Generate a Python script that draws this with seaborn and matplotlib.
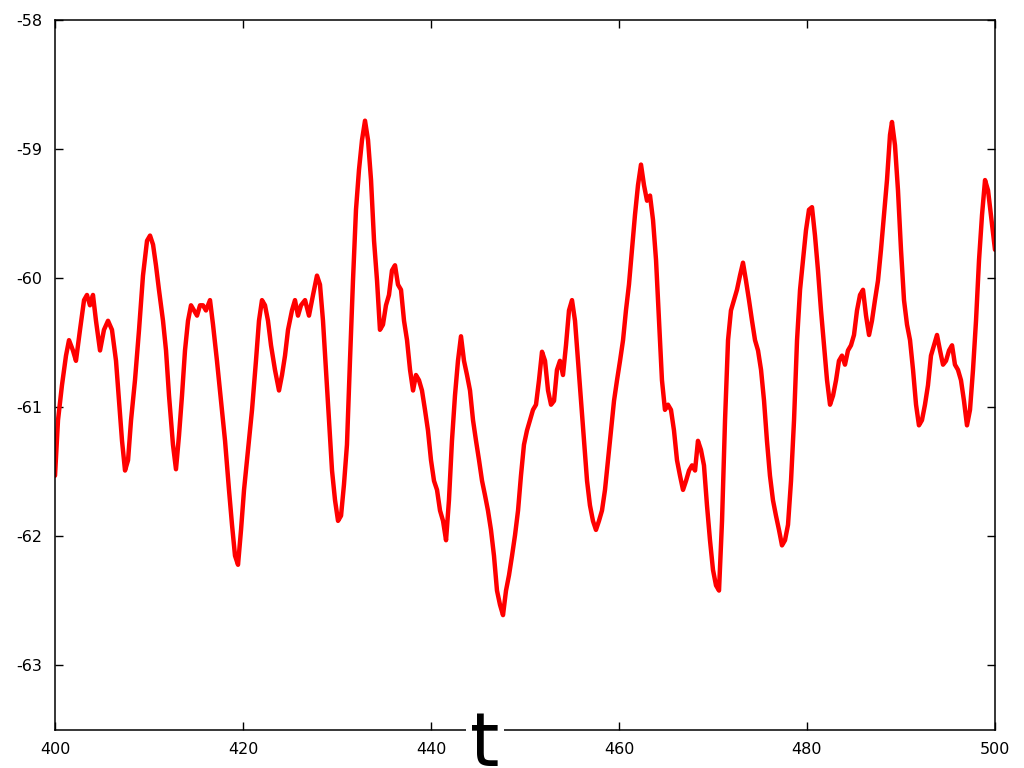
import numpy as np
import pandas as pd
import matplotlib
matplotlib.use("Agg")
import matplotlib.pyplot as plt
import seaborn as sns

# samples
t = [400.00, 400.32, 400.74, 401.17, 401.49, 401.91, 402.23, 402.66, 403.09, 403.40,
     403.72, 404.04, 404.36, 404.79, 405.21, 405.64, 406.06, 406.49, 406.81, 407.13,
     407.45, 407.77, 408.09, 408.51, 408.94, 409.36, 409.79, 410.11, 410.43, 410.74,
     411.06, 411.49, 411.81, 412.13, 412.55, 412.87, 413.19, 413.51, 413.83, 414.15,
     414.47, 414.79, 415.11, 415.43, 415.74, 416.06, 416.49, 416.81, 417.23, 417.66,
     418.09, 418.51, 418.83, 419.15, 419.47, 419.79, 420.11, 420.53, 420.96, 421.38,
     421.70, 422.02, 422.34, 422.66, 422.98, 423.40, 423.83, 424.15, 424.47, 424.79,
     425.21, 425.53, 425.85, 426.17, 426.60, 427.02, 427.45, 427.87, 428.19, 428.51,
     428.83, 429.15, 429.47, 429.79, 430.11, 430.43, 430.74, 431.06, 431.38, 431.70,
     432.02, 432.34, 432.66, 432.98, 433.30, 433.62, 433.94, 434.26, 434.57, 434.89,
     435.21, 435.53, 435.85, 436.17, 436.49, 436.81, 437.13, 437.45, 437.77, 438.09,
     438.40, 438.72, 439.04, 439.36, 439.68, 440.00, 440.32, 440.64, 440.96, 441.28,
     441.60, 441.91, 442.23, 442.55, 442.87, 443.19, 443.51, 443.83, 444.15, 444.47,
     444.79, 445.11, 445.43, 445.74, 446.06, 446.38, 446.70, 447.02, 447.34, 447.66,
     447.98, 448.30, 448.62, 448.94, 449.26, 449.57, 449.89, 450.21, 450.53, 450.85,
     451.17, 451.49, 451.81, 452.13, 452.45, 452.77, 453.09, 453.40, 453.72, 454.04,
     454.36, 454.68, 455.00, 455.32, 455.64, 455.96, 456.28, 456.60, 456.91, 457.23,
     457.55, 457.87, 458.19, 458.51, 458.83, 459.15, 459.47, 459.79, 460.11, 460.43,
     460.74, 461.06, 461.38, 461.70, 462.02, 462.34, 462.66, 462.98, 463.30, 463.62,
     463.94, 464.26, 464.57, 464.89, 465.21, 465.53, 465.85, 466.17, 466.49, 466.81,
     467.13, 467.45, 467.77, 468.09, 468.40, 468.72, 469.04, 469.36, 469.68, 470.00,
     470.32, 470.64, 470.96, 471.28, 471.60, 471.91, 472.23, 472.55, 472.87, 473.19,
     473.51, 473.83, 474.15, 474.47, 474.79, 475.11, 475.43, 475.74, 476.06, 476.38,
     476.70, 477.02, 477.34, 477.66, 477.98, 478.30, 478.62, 478.94, 479.26, 479.57,
     479.89, 480.21, 480.53, 480.85, 481.17, 481.49, 481.81, 482.13, 482.45, 482.77,
     483.09, 483.40, 483.72, 484.04, 484.36, 484.68, 485.00, 485.32, 485.64, 485.96,
     486.28, 486.60, 486.91, 487.23, 487.55, 487.87, 488.19, 488.51, 488.83, 489.04,
     489.36, 489.68, 490.00, 490.32, 490.64, 490.96, 491.28, 491.60, 491.91, 492.23,
     492.55, 492.87, 493.19, 493.51, 493.83, 494.15, 494.47, 494.79, 495.11, 495.43,
     495.74, 496.06, 496.38, 496.70, 497.02, 497.34, 497.66, 497.98, 498.30, 498.62,
     498.94, 499.26, 499.57, 499.89, 500.00]

val = [-61.53, -61.10, -60.83, -60.60, -60.48, -60.56, -60.64, -60.40, -60.17, -60.13,
       -60.21, -60.13, -60.33, -60.56, -60.40, -60.33, -60.40, -60.64, -60.95, -61.26,
       -61.49, -61.41, -61.10, -60.79, -60.40, -59.98, -59.71, -59.67, -59.74, -59.90,
       -60.09, -60.33, -60.56, -60.91, -61.29, -61.48, -61.22, -60.91, -60.56, -60.33,
       -60.21, -60.25, -60.29, -60.21, -60.21, -60.25, -60.17, -60.36, -60.64, -60.95,
       -61.26, -61.64, -61.91, -62.15, -62.22, -61.95, -61.64, -61.33, -61.02, -60.64,
       -60.33, -60.17, -60.21, -60.33, -60.52, -60.71, -60.87, -60.75, -60.60, -60.40,
       -60.25, -60.17, -60.29, -60.21, -60.17, -60.29, -60.13, -59.98, -60.05, -60.33,
       -60.71, -61.10, -61.49, -61.72, -61.88, -61.84, -61.60, -61.29, -60.64, -60.02,
       -59.47, -59.16, -58.93, -58.78, -58.93, -59.24, -59.71, -60.02, -60.40, -60.36,
       -60.21, -60.13, -59.94, -59.90, -60.05, -60.09, -60.33, -60.48, -60.71, -60.87,
       -60.75, -60.79, -60.87, -61.02, -61.18, -61.41, -61.57, -61.64, -61.80, -61.88,
       -62.03, -61.72, -61.26, -60.91, -60.64, -60.45, -60.64, -60.75, -60.87, -61.10,
       -61.26, -61.41, -61.57, -61.68, -61.80, -61.95, -62.15, -62.42, -62.53, -62.61,
       -62.42, -62.30, -62.15, -61.99, -61.80, -61.53, -61.29, -61.18, -61.10, -61.02,
       -60.98, -60.79, -60.57, -60.64, -60.87, -60.98, -60.95, -60.71, -60.64, -60.75,
       -60.52, -60.25, -60.17, -60.33, -60.64, -60.95, -61.26, -61.57, -61.76, -61.88,
       -61.95, -61.88, -61.80, -61.64, -61.41, -61.18, -60.95, -60.79, -60.64, -60.48,
       -60.25, -60.05, -59.78, -59.51, -59.28, -59.12, -59.28, -59.40, -59.36, -59.55,
       -59.86, -60.33, -60.79, -61.02, -60.98, -61.02, -61.18, -61.41, -61.53, -61.64,
       -61.57, -61.49, -61.45, -61.49, -61.26, -61.33, -61.45, -61.76, -62.03, -62.26,
       -62.38, -62.42, -61.88, -61.10, -60.48, -60.25, -60.17, -60.09, -59.98, -59.88,
       -60.02, -60.17, -60.33, -60.48, -60.56, -60.71, -60.95, -61.26, -61.53, -61.72,
       -61.84, -61.95, -62.07, -62.03, -61.91, -61.57, -61.10, -60.48, -60.09, -59.86,
       -59.63, -59.47, -59.45, -59.67, -59.94, -60.25, -60.52, -60.79, -60.98, -60.91,
       -60.79, -60.64, -60.60, -60.67, -60.56, -60.52, -60.44, -60.25, -60.13, -60.09,
       -60.29, -60.44, -60.33, -60.17, -60.02, -59.78, -59.51, -59.24, -58.89, -58.79,
       -58.97, -59.32, -59.78, -60.17, -60.36, -60.48, -60.71, -60.98, -61.14, -61.10,
       -60.98, -60.83, -60.60, -60.52, -60.44, -60.56, -60.67, -60.64, -60.56, -60.52,
       -60.67, -60.71, -60.79, -60.95, -61.14, -61.02, -60.71, -60.33, -59.86, -59.51,
       -59.24, -59.32, -59.51, -59.71, -59.78]

xticks = [400, 420, 440, 460, 480, 500]
yticks = [-63, -62, -61, -60, -59, -58]

df = pd.DataFrame({"t": t, "value": val})

sns.set_style("ticks")
plt.rcParams["font.family"] = ["DejaVu Sans"]
plt.rcParams["axes.unicode_minus"] = False

fig = plt.figure(figsize=(10.24, 7.68), dpi=100)
ax = fig.add_axes([55 / 1024, 1 - 730 / 768, 940 / 1024, 710 / 768])

sns.lineplot(data=df, x="t", y="value", ax=ax, color="#ff0000",
             linewidth=3.2, estimator=None)

ax.set_xlim(400, 500)
ax.set_ylim(-63.5, -58)
ax.set_xticks(xticks)
ax.set_yticks(yticks)
ax.set_xlabel("")
ax.set_ylabel("")
ax.tick_params(direction="in", length=6, width=1, top=True, right=True,
               labelsize=11.5, colors="black", pad=9)
for s in ax.spines.values():
    s.set_linewidth(1.1)
    s.set_color("black")

# big axis label sitting on top of the bottom spine
fig.text(485 / 1024, 1 - 766 / 768, "t", fontsize=54, color="black",
         ha="center", va="baseline",
         bbox=dict(facecolor="white", edgecolor="none", pad=3))

fig.savefig("out.png", dpi=100)
